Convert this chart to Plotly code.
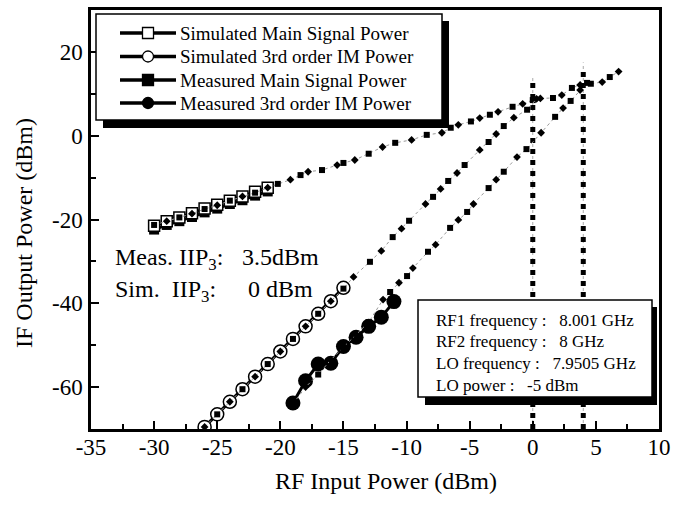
import plotly.graph_objects as go

# ---------------- data ----------------
sim_main_x = [-30, -29, -28, -27, -26, -25, -24, -23, -22, -21]
sim_main_y = [-21.5, -20.4, -19.5, -18.5, -17.4, -16.5, -15.5, -14.5, -13.4, -12.4]

meas_main_x = [-30, -29, -28, -27, -26, -25, -24, -23, -22, -21]
meas_main_y = [-22.4, -21.3, -20.4, -19.4, -18.3, -17.4, -16.3, -15.4, -14.3, -13.3]

sim_im_x = [-26, -25, -24, -23, -22, -21, -20, -19, -18, -17, -16, -15]
sim_im_y = [-69.5, -66.5, -63.5, -60.5, -57.5, -54.5, -51.5, -48.5, -45.5, -42.5, -39.5, -36.3]

meas_im_x = [-19, -18, -17, -16, -15, -14, -13, -12, -11]
meas_im_y = [-63.8, -58.5, -54.5, -54.3, -50.3, -48.1, -45.5, -43.3, -39.6]

# extrapolated (fitted) lines, dotted with small markers
ext_main_x = [-30, -29, -28, -27, -26, -25, -24, -23, -22, -21, -20.2, -19.2, -18.4, -17.8,
              -16.7, -15.5, -15, -14.1, -13, -11.9, -10.9, -9.6, -8.4, -7.2, -6.5, -5.9,
              -4.9, -4.2, -3.4, -2.75, -1.6, -0.8, 0, 0.6, 1.6, 2.3, 3.1, 3.75, 4.6, 5.5, 6.1, 6.8]
ext_main_y = [-21.3, -20.4, -19.5, -18.6, -17.5, -16.6, -15.5, -14.5, -13.6, -12.4, -11.5, -10.5,
              -9.4, -8.6, -8.2, -7.0, -6.5, -5.8, -4.3, -2.7, -1.7, -1.0, 0.2, 0.7, 1.9, 2.6,
              3.4, 4.2, 5.0, 5.7, 6.9, 7.6, 8.5, 8.9, 9.0, 9.7, 11.4, 12.1, 12.4, 12.8, 14.0, 15.3]

ext_sim_im_x = [-26, -25, -24, -23, -22, -21, -20, -19, -18, -17, -16, -15, -14.2, -12.9, -12,
                -11.1, -10.4, -9.8, -8.5, -7.9, -7.3, -6.7, -6, -5.4, -4.2, -3.5, -2.9, -2.3,
                -1.5, -0.45, 0.3]
ext_sim_im_y = [-69.5, -66.5, -63.5, -60.5, -57.5, -54.5, -51.5, -48.5, -45.5, -42.5, -39.5, -36.5,
                -33.7, -30.1, -27.5, -24.2, -22.2, -20.3, -16.3, -14.6, -12.7, -10.8, -8.9, -7.0,
                -3.4, -1.5, 0.4, 2.3, 4.3, 6.2, 8.8]

ext_meas_im_x = [-19, -18, -17, -16, -15, -14, -13, -11.86, -11.3, -10.6, -9.96, -9.5, -8.3, -7.7,
                 -6.55, -5.9, -5.2, -4.7, -3.5, -2.9, -2.3, -1.25, -0.5, 0.66, 1.77, 2.4, 3.0,
                 3.75, 4.3]
ext_meas_im_y = [-64.0, -60.0, -57.0, -53.5, -50.5, -47.5, -44.5, -39.1, -37.3, -35.1, -33.5, -31.6,
                 -27.7, -26.0, -22.0, -20.1, -18.2, -16.3, -12.5, -10.5, -8.6, -5.1, -3.2, 0.7,
                 4.5, 6.6, 8.3, 10.9, 12.6]

# IIP3 markers (vertical dotted lines)
iip3_x = [0, 4]
iip3_top = [14.0, 15.5]
iip3_guide_top = [14.0, 17.5]

x_ticks = [-35, -30, -25, -20, -15, -10, -5, 0, 5, 10]
y_ticks = [-60, -40, -20, 0, 20]

legend_names = ["Simulated Main Signal Power", "Simulated 3rd order IM Power",
                "Measured Main Signal Power", "Measured 3rd order IM Power"]

info_lines = ["RF1 frequency :   8.001 GHz", "RF2 frequency :   8 GHz",
              "LO frequency :   7.9505 GHz", "LO power :   -5 dBm"]

# ---------------- figure ----------------
FONT = "Liberation Serif, Times New Roman, serif"
W, H = 688, 505
ML, MR, MT, MB = 91, 29, 10, 76
XR = [-35, 10]
YR = [-70, 30]
px_per_x = (W - ML - MR) / (XR[1] - XR[0])
px_per_y = (H - MT - MB) / (YR[1] - YR[0])


def dx(px):
    return XR[0] + (px - ML) / px_per_x


def dy(py):
    return YR[1] - (py - MT) / px_per_y


fig = go.Figure()

# IIP3 vertical lines
for xv, top, gtop in zip(iip3_x, iip3_top, iip3_guide_top):
    fig.add_trace(go.Scatter(x=[xv, xv], y=[YR[0], gtop], mode="lines",
                             line=dict(color="#aaaaaa", width=1, dash="dot"),
                             showlegend=False, hoverinfo="skip"))
    fig.add_trace(go.Scatter(x=[xv, xv], y=[YR[0], top], mode="lines",
                             line=dict(color="black", width=5, dash="5px,6px"),
                             showlegend=False, hoverinfo="skip"))

# data traces
fig.add_trace(go.Scatter(x=meas_main_x, y=meas_main_y, mode="lines+markers",
                         name=legend_names[2], showlegend=False,
                         line=dict(color="black", width=3),
                         marker=dict(symbol="square", size=10, color="black")))
fig.add_trace(go.Scatter(x=sim_main_x, y=sim_main_y, mode="lines+markers",
                         name=legend_names[0], showlegend=False,
                         line=dict(color="black", width=3),
                         marker=dict(symbol="square", size=11, color="white",
                                     line=dict(color="black", width=1.5))))
fig.add_trace(go.Scatter(x=sim_im_x, y=sim_im_y, mode="lines+markers",
                         name=legend_names[1], showlegend=False,
                         line=dict(color="black", width=3),
                         marker=dict(symbol="circle", size=13, color="white",
                                     line=dict(color="black", width=1.5))))
fig.add_trace(go.Scatter(x=meas_im_x, y=meas_im_y, mode="lines+markers",
                         name=legend_names[3], showlegend=False,
                         line=dict(color="black", width=3),
                         marker=dict(symbol="circle", size=15, color="black")))


def alt_symbols(n, start=0):
    return ["square" if (i + start) % 2 == 0 else "diamond" for i in range(n)]


for ex, ey, st in [(ext_main_x, ext_main_y, 0), (ext_sim_im_x, ext_sim_im_y, 1),
                   (ext_meas_im_x, ext_meas_im_y, 0)]:
    fig.add_trace(go.Scatter(x=ex, y=ey, mode="lines+markers",
                             line=dict(color="#999999", width=1, dash="dot"),
                             marker=dict(symbol=alt_symbols(len(ex), st), size=6, color="black"),
                             showlegend=False, hoverinfo="skip"))

shapes = []
annotations = []

# legend box + shadow
lb = (96, 14, 442, 120)
shapes.append(dict(type="rect", xref="x", yref="y", x0=dx(lb[0] + 7), x1=dx(lb[2] + 7),
                   y0=dy(lb[1] + 7), y1=dy(lb[3] + 8), fillcolor="black", line_width=0,
                   layer="above"))
shapes.append(dict(type="rect", xref="x", yref="y", x0=dx(lb[0]), x1=dx(lb[2]),
                   y0=dy(lb[1]), y1=dy(lb[3]), fillcolor="white",
                   line=dict(color="black", width=1.5), layer="above"))
# legend keys
rows = [33, 56.5, 80, 103]
kinds = [("rect", "white"), ("circle", "white"), ("rect", "black"), ("circle", "black")]
for r, (kind, fill), name in zip(rows, kinds, legend_names):
    shapes.append(dict(type="line", xref="x", yref="y", x0=dx(120), x1=dx(176),
                       y0=dy(r), y1=dy(r), line=dict(color="black", width=3.5), layer="above"))
    hs = 5.5
    shapes.append(dict(type=kind, xref="x", yref="y", x0=dx(148 - hs), x1=dx(148 + hs),
                       y0=dy(r - hs), y1=dy(r + hs), fillcolor=fill,
                       line=dict(color="black", width=1.3), layer="above"))
    annotations.append(dict(x=dx(178), y=dy(r), xref="x", yref="y", text=name,
                            showarrow=False, xanchor="left", yanchor="middle",
                            font=dict(family=FONT, size=19, color="black")))

# info box + shadow
ib = (418, 300, 652, 397)
shapes.append(dict(type="rect", xref="x", yref="y", x0=dx(ib[0] + 7), x1=dx(ib[2] + 5),
                   y0=dy(ib[1] + 7), y1=dy(ib[3] + 8), fillcolor="black", line_width=0,
                   layer="above"))
shapes.append(dict(type="rect", xref="x", yref="y", x0=dx(ib[0]), x1=dx(ib[2]),
                   y0=dy(ib[1]), y1=dy(ib[3]), fillcolor="white",
                   line=dict(color="black", width=1.5), layer="above"))

for i, t in enumerate(info_lines):
    annotations.append(dict(x=dx(434), y=dy(320 + i * 21.7), xref="x", yref="y",
                            text=t.replace("  ", "\u00a0\u00a0"), showarrow=False,
                            xanchor="left", yanchor="middle",
                            font=dict(family=FONT, size=17, color="black")))

annotations.append(dict(x=dx(113), y=dy(259), xref="x", yref="y",
                        text="Meas.\u00a0IIP<sub>3</sub>:", showarrow=False,
                        xanchor="left", yanchor="middle",
                        font=dict(family=FONT, size=24, color="black")))
annotations.append(dict(x=dx(240), y=dy(257), xref="x", yref="y",
                        text="3.5dBm", showarrow=False, xanchor="left", yanchor="middle",
                        font=dict(family=FONT, size=24, color="black")))
annotations.append(dict(x=dx(113), y=dy(291), xref="x", yref="y",
                        text="Sim.\u00a0\u00a0IIP<sub>3</sub>:", showarrow=False,
                        xanchor="left", yanchor="middle",
                        font=dict(family=FONT, size=24, color="black")))
annotations.append(dict(x=dx(246), y=dy(289), xref="x", yref="y",
                        text="0 dBm", showarrow=False, xanchor="left", yanchor="middle",
                        font=dict(family=FONT, size=24, color="black")))

# axis titles
annotations.append(dict(x=(386 - ML) / (W - ML - MR), y=(H - MB - 481) / (H - MT - MB),
                        xref="paper", yref="paper", text="RF Input Power (dBm)",
                        showarrow=False, xanchor="center", yanchor="middle",
                        font=dict(family=FONT, size=24, color="black")))
annotations.append(dict(x=(24 - ML) / (W - ML - MR), y=(H - MB - 233) / (H - MT - MB),
                        xref="paper", yref="paper", text="IF Output Power (dBm)",
                        textangle=-90, showarrow=False, xanchor="center", yanchor="middle",
                        font=dict(family=FONT, size=24, color="black")))

axis_common = dict(showline=True, linecolor="black", linewidth=2.5, mirror=True,
                   ticks="inside", ticklen=8, tickwidth=2, tickcolor="black",
                   showgrid=False, zeroline=False, automargin=False,
                   tickfont=dict(family=FONT, size=23, color="black"))

fig.update_layout(
    width=W, height=H,
    margin=dict(l=ML, r=MR, t=MT, b=MB, autoexpand=False),
    paper_bgcolor="white", plot_bgcolor="white",
    shapes=shapes, annotations=annotations,
    showlegend=False,
    xaxis=dict(range=XR, tickvals=x_ticks, ticktext=[str(v) for v in x_ticks],
               minor=dict(dtick=2.5, tick0=0, ticks="inside", ticklen=5, tickwidth=2,
                          tickcolor="black"),
               ticklabelstandoff=-4,
               **axis_common),
    yaxis=dict(range=YR, tickvals=y_ticks, ticktext=[str(v) for v in y_ticks],
               minor=dict(dtick=10, tick0=0, ticks="inside", ticklen=5, tickwidth=2,
                          tickcolor="black"),
               ticklabelstandoff=1,
               **axis_common),
)

fig.write_html("out.html")
